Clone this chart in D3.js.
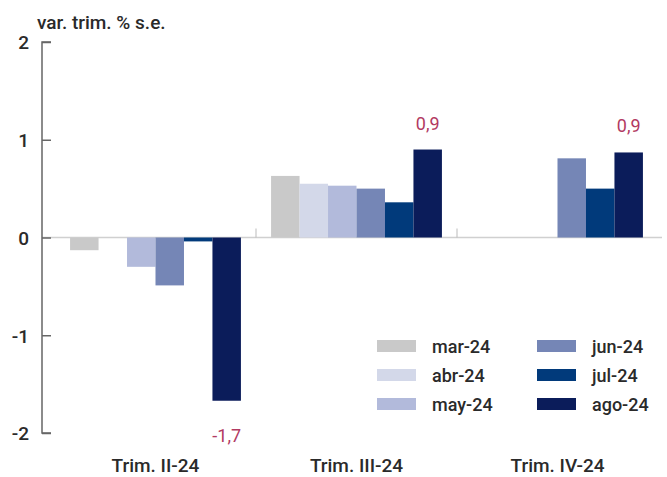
<!DOCTYPE html>
<html>
<head>
<meta charset="utf-8">
<script src="https://cdn.jsdelivr.net/npm/d3@7/dist/d3.min.js"></script>
<style>
  html, body { margin: 0; padding: 0; background: #fff; }
  svg { display: block; font-family: Roboto, "Noto Sans", sans-serif; }
</style>
</head>
<body>
<svg id="chart" width="667" height="477"></svg>
<script>
// Quarterly change, seasonally adjusted, by forecast vintage
const quarters = ["Trim. II-24", "Trim. III-24", "Trim. IV-24"];
const vintages = ["mar-24", "abr-24", "may-24", "jun-24", "jul-24", "ago-24"];
const marValues = [-0.13, 0.63, null];
const abrValues = [0.0, 0.55, null];
const mayValues = [-0.30, 0.53, null];
const junValues = [-0.49, 0.50, 0.81];
const julValues = [-0.04, 0.36, 0.50];
const agoValues = [-1.67, 0.90, 0.87];
const yTicks = [-2, -1, 0, 1, 2];
const yLabel = "var. trim. % s.e.";

const seriesValues = [marValues, abrValues, mayValues, junValues, julValues, agoValues];
const colors = ["#c9c9c9", "#d3d8e9", "#b2badb", "#7586b6", "#013a7b", "#0b1c5a"];
const labelColor = "#b23a62";
const textColor = "#2a2a2a";
const fmt = v => v.toFixed(1).replace(".", ",");

const svg = d3.select("#chart");

const y = d3.scaleLinear().domain([-2, 2]).range([433, 42]);
const x0 = d3.scaleBand().domain(quarters).range([55, 658]).paddingInner(0.15).paddingOuter(0.075);
const x1 = d3.scaleBand().domain(vintages).range([0, x0.bandwidth()]);

// zero baseline
svg.append("line")
  .attr("x1", 42).attr("x2", 662)
  .attr("y1", y(0)).attr("y2", y(0))
  .attr("stroke", "#d0d0d0").attr("stroke-width", 1.5);

// faint separators between quarters on the baseline
quarters.slice(1).forEach((q, i) => {
  const prevEnd = x0(quarters[i]) + x0.bandwidth();
  const sx = (prevEnd + x0(q)) / 2;
  svg.append("line")
    .attr("x1", sx).attr("x2", sx)
    .attr("y1", y(0) - 9).attr("y2", y(0))
    .attr("stroke", "#bbb").attr("stroke-width", 1);
});

// bars
const rows = [];
quarters.forEach((q, qi) => {
  vintages.forEach((v, vi) => {
    const val = seriesValues[vi][qi];
    if (val !== null) rows.push({ q, v, vi, val });
  });
});

svg.append("g").selectAll("rect")
  .data(rows)
  .join("rect")
  .attr("x", d => x0(d.q) + x1(d.v))
  .attr("width", x1.bandwidth())
  .attr("y", d => y(Math.max(0, d.val)))
  .attr("height", d => Math.abs(y(d.val) - y(0)))
  .attr("fill", d => colors[d.vi]);

// value labels on the latest vintage
svg.append("g").selectAll("text")
  .data(rows.filter(d => d.v === "ago-24"))
  .join("text")
  .attr("x", d => x0(d.q) + x1(d.v) + x1.bandwidth() / 2)
  .attr("y", d => d.val >= 0 ? y(d.val) - 20 : y(d.val) + 41)
  .attr("text-anchor", "middle")
  .attr("font-size", 18)
  .attr("fill", labelColor)
  .text(d => fmt(Math.round(d.val * 10) / 10));

// y axis
const yAxis = d3.axisRight(y).tickValues(yTicks).tickSize(9).tickFormat(d => String(d));
const gy = svg.append("g").attr("transform", "translate(42,0)").call(yAxis);
gy.select(".domain").attr("stroke", "#666").attr("stroke-width", 1.5)
  .attr("d", `M9,${y(2)}H0V${y(-2)}H9`);
gy.selectAll(".tick line").attr("stroke", "#666").attr("stroke-width", 1.5);
gy.selectAll(".tick text")
  .attr("x", -13).attr("dy", "0.36em").attr("text-anchor", "end")
  .attr("font-size", 19).attr("font-weight", 500).attr("fill", textColor)
  .attr("font-family", "Roboto, sans-serif");

// y axis title
svg.append("text")
  .attr("x", 37).attr("y", 29)
  .attr("font-size", 19).attr("font-weight", 500).attr("fill", textColor)
  .text(yLabel);

// quarter labels
svg.append("g").selectAll("text")
  .data(quarters)
  .join("text")
  .attr("x", d => x0(d) + x0.bandwidth() / 2)
  .attr("y", 472)
  .attr("text-anchor", "middle")
  .attr("font-size", 19).attr("font-weight", 500).attr("fill", textColor)
  .text(d => d);

// legend, two columns of three
const legend = svg.append("g");
vintages.forEach((v, i) => {
  const col = Math.floor(i / 3), row = i % 3;
  const lx = 377 + col * 160, ly = 340 + row * 29;
  legend.append("rect")
    .attr("x", lx).attr("y", ly)
    .attr("width", 39).attr("height", 12)
    .attr("fill", colors[i]);
  legend.append("text")
    .attr("x", lx + 55).attr("y", ly + 13)
    .attr("font-size", 18).attr("font-weight", 500).attr("fill", textColor)
    .text(v);
});
</script>
</body>
</html>
